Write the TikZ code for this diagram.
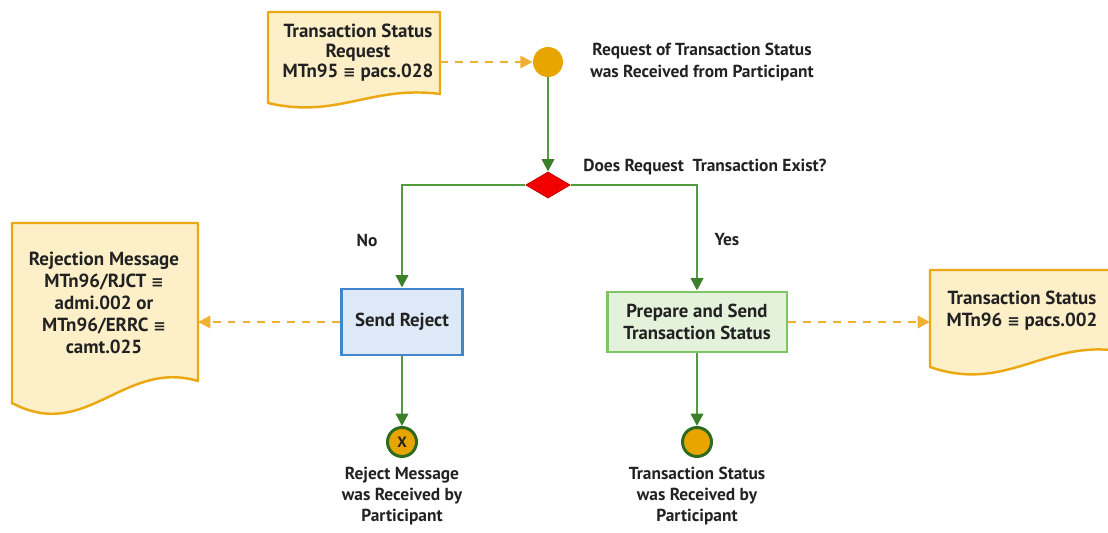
\documentclass[tikz,border=0pt]{standalone}
\usepackage{fontspec}
\setmainfont{PT Sans}
\newfontfamily\symfont{DejaVu Sans}
\usetikzlibrary{arrows.meta,shapes.geometric}

\definecolor{docfill}{HTML}{FDF0C9}
\definecolor{docline}{HTML}{EBA812}
\definecolor{msgline}{HTML}{F0B032}
\definecolor{dotfill}{HTML}{E8A500}
\definecolor{flowline}{HTML}{529B3E}
\definecolor{flowtip}{HTML}{3C7F2B}
\definecolor{darkring}{HTML}{2F6B1F}
\definecolor{rejline}{HTML}{3F86CC}
\definecolor{rejfill}{HTML}{DDE9F7}
\definecolor{prepline}{HTML}{7FC566}
\definecolor{prepfill}{HTML}{E4F2DC}
\definecolor{txt}{HTML}{222222}

\newcommand{\eqv}{{\symfont\fontsize{8.5}{8.5}\selectfont ≡}}
% paper: x1, top, x2, bottom of left side, rise of right side
\newcommand{\paper}[5]{%
  \draw[line width=1.4pt, draw=docline, fill=docfill, line join=round]
    (#1,#2) -- (#3,#2) -- (#3,#4-#5)
    .. controls (#3-0.4*#3+0.4*#1,#4-2*#5) and (#1+0.4*#3-0.4*#1,#4+1.8*#5) .. (#1,#4) -- cycle;}

\begin{document}
\begin{tikzpicture}[x=0.02cm, y=-0.02cm,
    font=\bfseries, text=txt,
    lbl/.style={align=center, inner sep=0, font=\fontsize{9.9}{12.2}\selectfont\bfseries},
    doctext/.style={align=center, inner sep=0, font=\fontsize{10.8}{12.5}\selectfont\bfseries},
    flow/.style={draw=flowline, line width=1.4pt, -{Triangle[length=7pt,width=7pt,color=flowtip]}},
    msg/.style={draw=msgline, line width=1.2pt, dash pattern=on 4.5pt off 4pt, -{Triangle[length=7pt,width=7pt,color=msgline]}},
    dot/.style={circle, fill=dotfill, minimum size=0.6cm, inner sep=0},
    enddot/.style={circle, fill=dotfill, draw=darkring, line width=1.7pt, minimum size=0.58cm, inner sep=0},
    task/.style={rectangle, line width=1.7pt, align=center, inner sep=0, font=\fontsize{10.7}{12.5}\selectfont\bfseries}]
\useasboundingbox (0,0) rectangle (1108,533);

% documents
\paper{268}{12}{440}{103}{9}
\paper{12}{223}{198}{403}{22}
\begin{scope}
  \clip (0,0) rectangle (1108,533);
  \paper{930}{270}{1125}{367}{15}
\end{scope}
\coordinate (reqpaper-e) at (440,62);
\coordinate (rejpaper-e) at (198,322);
\coordinate (statpaper-w) at (930,322);

\node[doctext, font=\fontsize{10.8}{11.4}\selectfont\bfseries] (reqtext) at (358,53) {Transaction Status\\Request\\MTn95 \eqv{} pacs.028};
\node[doctext] (rejtext) at (104,303) {Rejection Message\\MTn96/RJCT \eqv\\admi.002 or\\MTn96/ERRC \eqv\\camt.025};
\node[doctext] (stattext) at (1022,311) {Transaction Status\\MTn96 \eqv{} pacs.002};

% flow
\node[dot] (start) at (548,62) {};
\node[lbl, font=\fontsize{9.9}{12}\selectfont\bfseries] (startlbl) at (702,62) {Request of Transaction Status\\was Received from Participant};
\node[diamond, fill=red!95!black, draw=red!80!black, line width=0.6pt, minimum width=0.88cm, minimum height=0.52cm, aspect=1.7, inner sep=0] (dec) at (548,185) {};
\node[lbl] (declbl) at (705,167) {Does Request\ \ Transaction Exist?};
\node[task, draw=rejline, fill=rejfill, minimum width=2.42cm, minimum height=1.32cm] (reject) at (402,322) {Send Reject};
\node[task, draw=prepline, fill=prepfill, minimum width=3.6cm, minimum height=1.2cm] (prep) at (697,322) {Prepare and Send\\Transaction Status};
\node[enddot] (endx) at (402,442) {\fontsize{8.5}{8.5}\selectfont X};
\node[enddot] (endok) at (697,442) {};
\node[lbl] (endxlbl) at (402,496) {Reject Message\\was Received by\\Participant};
\node[lbl] (endoklbl) at (697,496) {Transaction Status\\was Received by\\Participant};
\node[lbl] (no) at (367,240) {No};
\node[lbl] (yes) at (727,240) {Yes};

\draw[flow] (start) -- (dec);
\draw[flow] (dec.west) -| (reject);
\draw[flow] (dec.east) -| (prep);
\draw[flow] (reject) -- (endx);
\draw[flow] (prep) -- (endok);
\draw[msg] (reqpaper-e) -- (start);
\draw[msg] (reject) -- (rejpaper-e);
\draw[msg] (prep) -- (statpaper-w);
\end{tikzpicture}
\end{document}
